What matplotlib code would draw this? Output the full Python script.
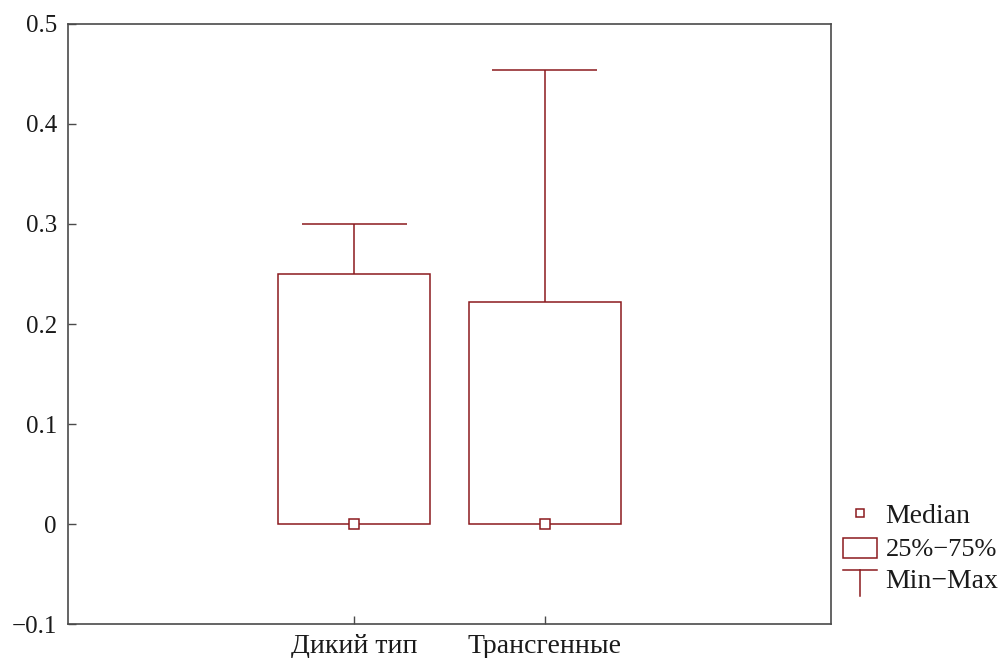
import matplotlib
matplotlib.use("Agg")
import matplotlib.pyplot as plt
from matplotlib.legend_handler import HandlerBase
from matplotlib.lines import Line2D
from matplotlib.patches import Patch, Rectangle

plt.rcParams["font.family"] = ["Liberation Serif", "DejaVu Serif"]

groups = ["Дикий тип", "Трансгенные"]
medians = [0.0, 0.0]
q1 = [0.0, 0.0]
q3 = [0.25, 0.222]
mins = [0.0, 0.0]
maxs = [0.30, 0.454]
yticks = [-0.1, 0.0, 0.1, 0.2, 0.3, 0.4, 0.5]
ytick_labels = ["\u22120.1", "0", "0.1", "0.2", "0.3", "0.4", "0.5"]

RED = "#8c1a1e"
AXIS = "#4a4a4a"
BOX_W = 0.8
CAP_W = 0.55


class BoxHandler(HandlerBase):
    def create_artists(self, legend, orig, xd, yd, w, h, fs, trans):
        r = Rectangle((xd, yd - 0.12 * h), w, h * 0.92, fill=False,
                      edgecolor=RED, linewidth=1.1, transform=trans)
        return [r]


class WhiskerHandler(HandlerBase):
    def create_artists(self, legend, orig, xd, yd, w, h, fs, trans):
        top = yd + h * 0.78
        bot = yd - h * 0.45
        cap = Line2D([xd, xd + w], [top, top], color=RED, lw=1.1, transform=trans)
        stem = Line2D([xd + w / 2, xd + w / 2], [top, bot], color=RED, lw=1.1, transform=trans)
        return [cap, stem]


fig = plt.figure(figsize=(10.01, 6.58), dpi=100)
ax = fig.add_axes([0.068, 0.051, 0.762, 0.913])

xs = list(range(1, len(groups) + 1))
ax.bar(xs, [b - a for a, b in zip(q1, q3)], bottom=q1, width=BOX_W,
       fill=False, edgecolor=RED, linewidth=1.1, zorder=3)
ax.vlines(xs, q3, maxs, color=RED, linewidth=1.1, zorder=3)
ax.vlines(xs, mins, q1, color=RED, linewidth=1.1, zorder=3)
ax.hlines(maxs, [x - CAP_W / 2 for x in xs], [x + CAP_W / 2 for x in xs],
          color=RED, linewidth=1.1, zorder=3)
ax.plot(xs, medians, linestyle="none", marker="s", markersize=6.5,
        markerfacecolor="white", markeredgecolor=RED, markeredgewidth=1.1, zorder=4)

ax.set_xlim(-0.5, 3.5)
ax.set_ylim(-0.1, 0.5)
ax.set_xticks(xs)
ax.set_xticklabels(groups, fontsize=20)
ax.set_yticks(yticks)
ax.set_yticklabels(ytick_labels, fontsize=18)
ax.tick_params(axis="both", direction="in", length=6, width=1.0, color=AXIS,
               labelcolor="#1a1a1a")
ax.tick_params(axis="y", pad=8)
ax.tick_params(axis="x", pad=7)
for sp in ax.spines.values():
    sp.set_color(AXIS)
    sp.set_linewidth(1.2)

handles = [
    Line2D([], [], linestyle="none", marker="s", markersize=6,
           markerfacecolor="white", markeredgecolor=RED, markeredgewidth=1.1),
    Patch(),
    Patch(),
]
labels = ["Median", "25%\u221275%", "Min\u2212Max"]
leg = fig.legend(handles, labels, loc="upper left", bbox_to_anchor=(0.842, 0.236),
                 frameon=False, fontsize=20, handlelength=1.22, handleheight=0.8,
                 handletextpad=0.32, labelspacing=0.24, borderpad=0, borderaxespad=0,
                 handler_map={handles[1]: BoxHandler(), handles[2]: WhiskerHandler()})
for t in leg.get_texts():
    t.set_color("#1a1a1a")
leg.get_texts()[1].set_fontsize(19)

fig.savefig("out.png", dpi=100)
